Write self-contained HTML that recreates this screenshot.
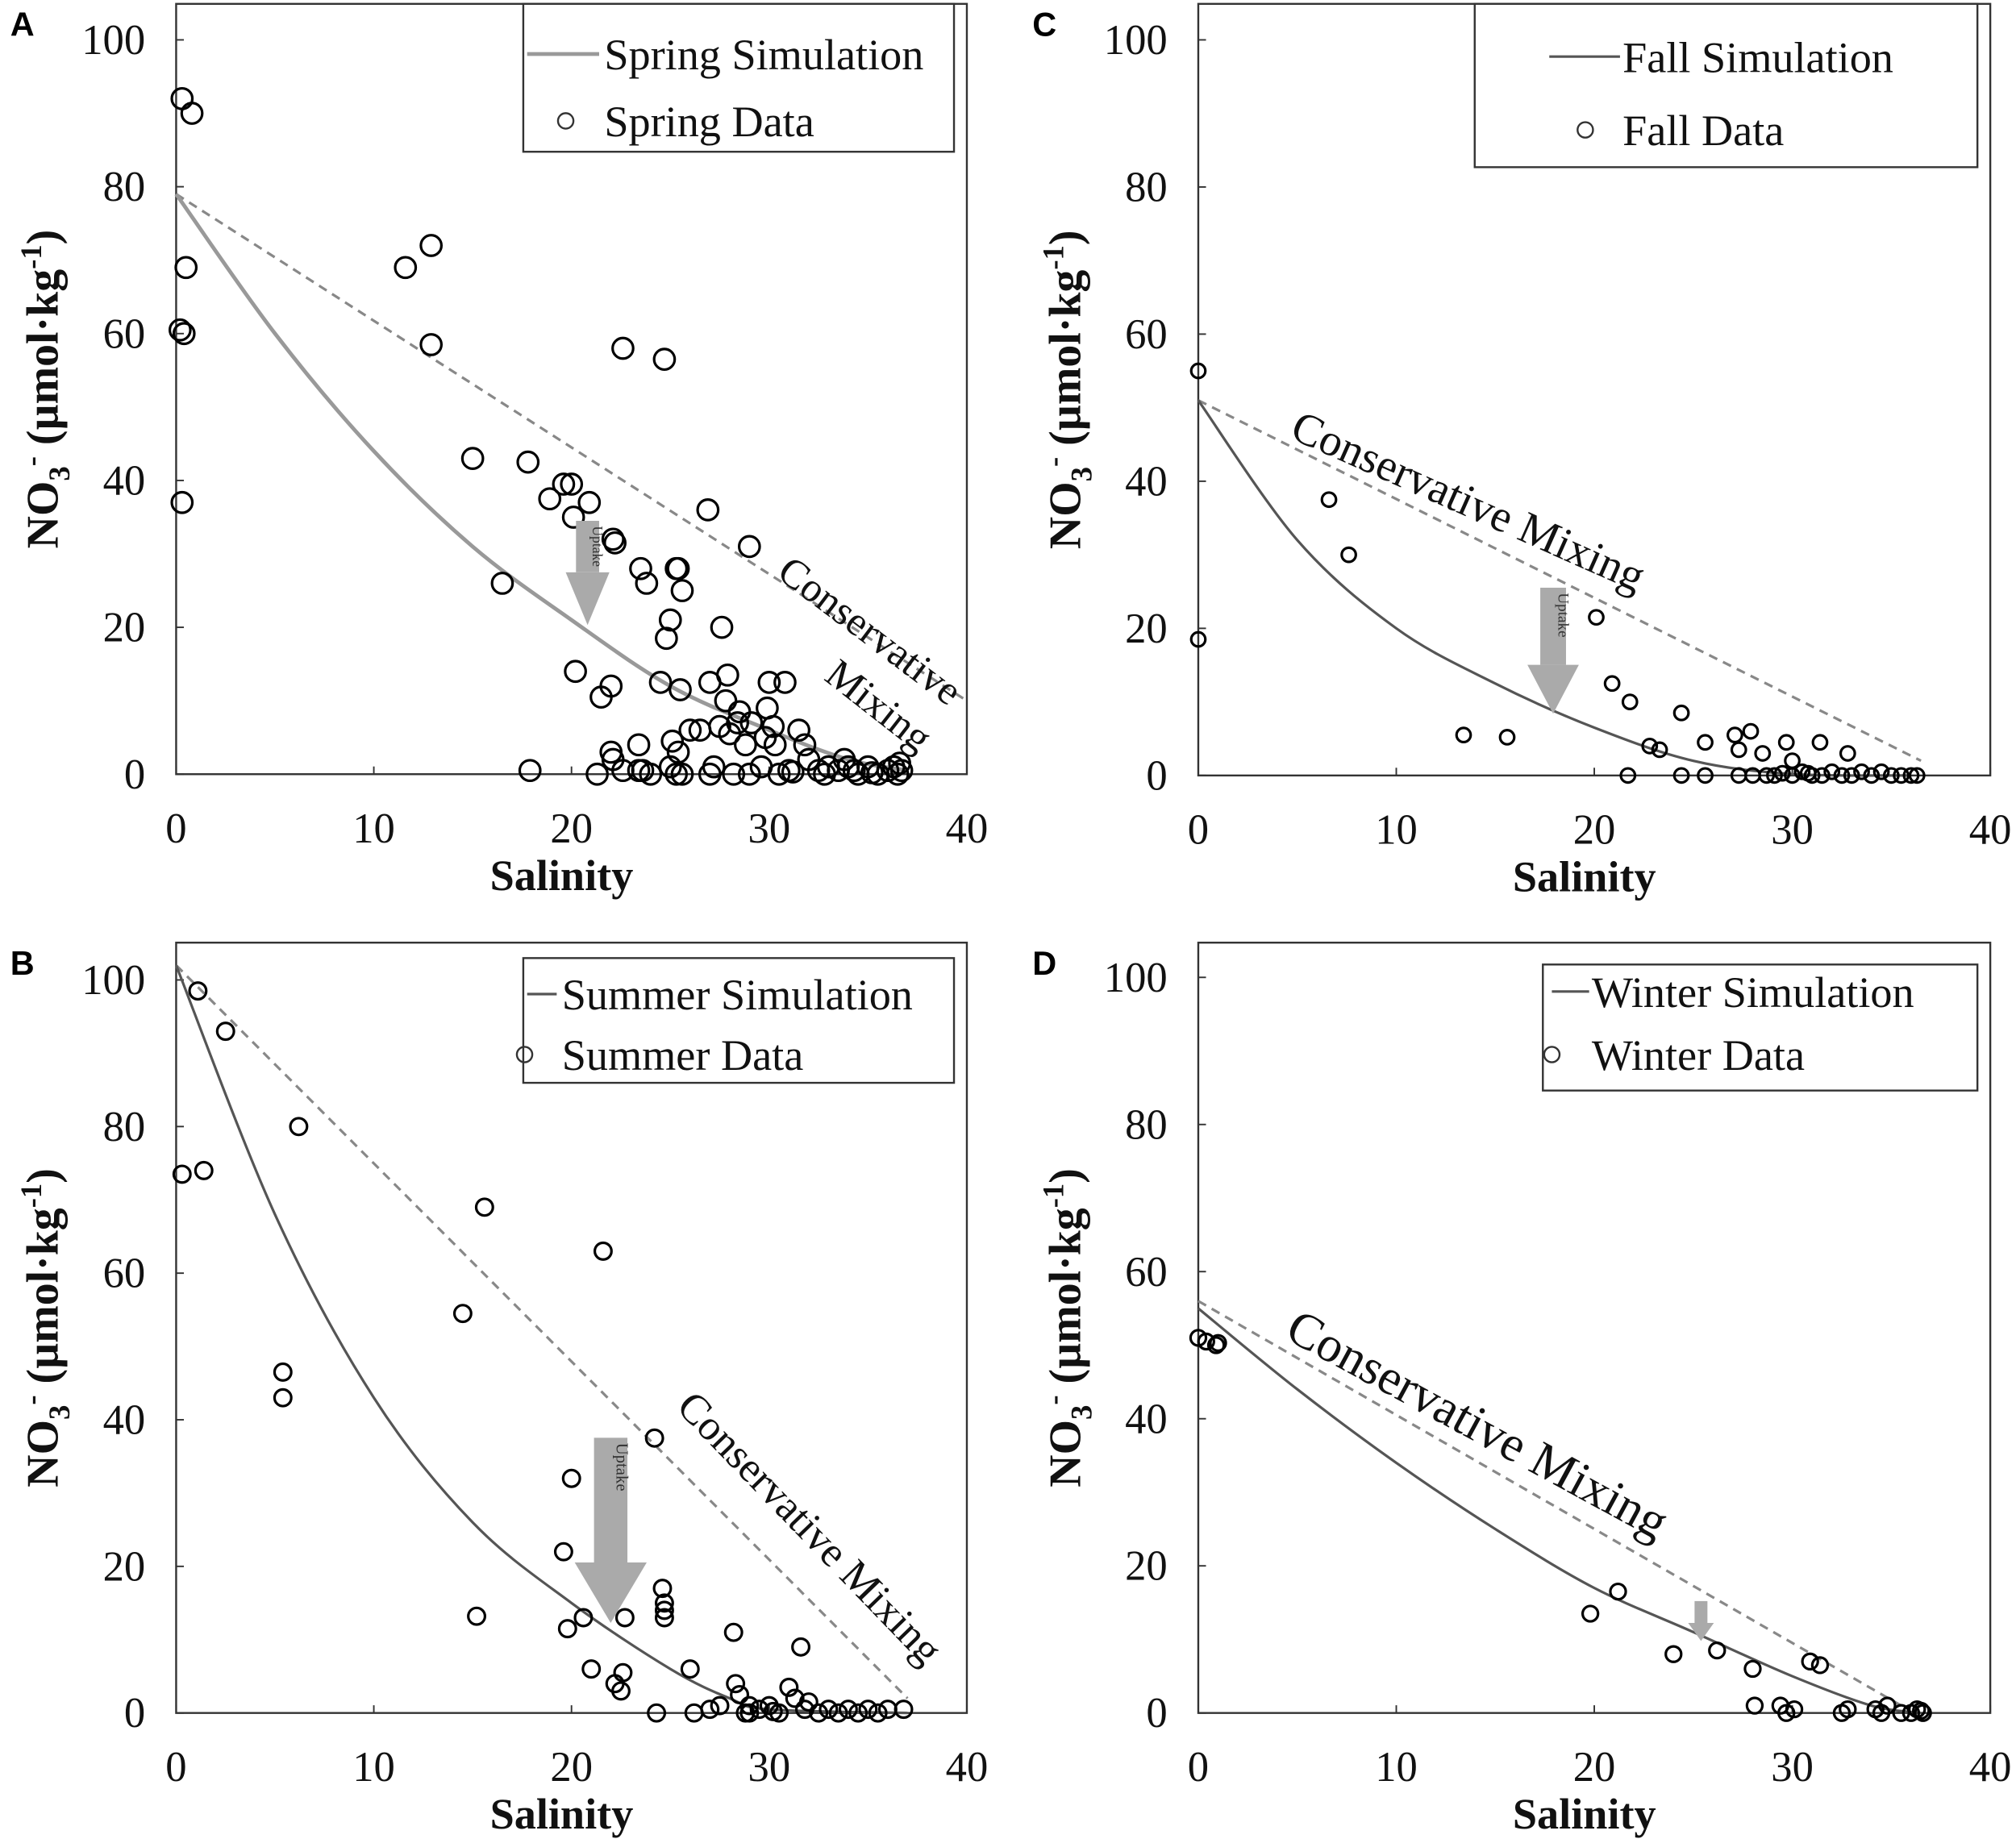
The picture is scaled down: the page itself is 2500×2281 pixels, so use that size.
<!DOCTYPE html>
<html><head><meta charset="utf-8"><style>
html,body{margin:0;padding:0;background:#fff}
svg{display:block}
text{font-family:"Liberation Serif",serif}
</style></head><body>
<svg id="fig" width="2500" height="2281" viewBox="0 0 1568 1430" preserveAspectRatio="none" xmlns="http://www.w3.org/2000/svg"></svg>
<script>
const xTicks=[0,10,20,30,40];
const yTicks=[0,20,40,60,80,100];
const springData=[[0.3,92],[0.8,90],[0.5,69],[0.2,60.5],[0.4,60],[0.3,37],[11.6,69],[12.9,72],[12.9,58.5],[15,43],[16.5,26],[17.8,42.5],[17.9,0.5],[18.9,37.5],[19.6,39.5],[20,39.5],[20.1,35],[20.2,14],[20.9,37],[21.3,0],[21.5,10.5],[22,12],[22.1,32],[22.2,31.5],[22,3],[22.1,2],[22.6,0.5],[22.6,58],[23.4,4],[23.4,0.5],[23.6,0.5],[23.5,28],[23.8,26],[24.5,12.5],[24.7,56.5],[24.8,18.5],[25,21],[25.1,4.5],[25,1],[25.3,28],[25.4,28],[25.6,25],[25.5,11.5],[25.4,3],[25.3,0],[25.6,0],[26,6],[26.5,6],[26.9,36],[27,12.5],[27.2,1],[27.5,6.5],[27.6,20],[27.8,10],[27.9,13.5],[28,5.5],[28.2,0],[28.4,7],[28.5,8.5],[28.8,4],[29,31],[29.1,7],[29.6,1],[29.8,5],[29.9,9],[30,12.5],[30.2,6.5],[30.3,4],[30.5,0],[30.8,12.5],[31,0.5],[31.5,6],[31.8,4],[32,2],[32.5,0.5],[33,1],[33.5,0.5],[34,1],[34.5,0],[35,1],[35.5,0],[36,0.5],[36.3,1],[36.5,0],[36.7,0.5],[33.8,2],[35.2,0.2],[36.6,1.5],[24,0],[27,0],[29,0],[31.2,0.3],[32.8,0],[34.3,0.5]];
const springSim=[[0,79],[5,60],[10,44],[15,31],[20,21],[25,12],[30,6],[34,2],[37,0.5]];
const springMix=[[0,79],[40,10]];
const summerData=[[0.3,73.5],[1.1,98.5],[1.4,74],[2.5,93],[5.4,46.5],[5.4,43],[6.2,80],[14.5,54.5],[15.2,13.2],[15.6,69],[19.6,22],[19.8,11.5],[20,32],[20.6,13],[21,6],[21.6,63],[22.2,4],[22.5,3],[22.6,5.5],[22.7,13],[24.2,37.5],[24.3,0],[24.6,17],[24.7,15],[24.7,14],[24.7,13],[26,6],[26.2,0],[27,0.5],[27.5,1],[28.2,11],[28.3,4],[28.5,2.5],[29,1],[29,0],[29.5,0.5],[30,1],[30.5,0],[31,3.5],[31.3,2],[31.6,9],[31.8,0.5],[32,1.5],[32.5,0],[33,0.5],[33.5,0],[34,0.5],[34.5,0],[35,0.5],[35.5,0],[36,0.5],[36.8,0.5],[30.2,0.2],[28.8,0]];
const summerSim=[[0,102],[5,68],[10,43],[15,26],[20,15],[25,6],[28,2],[30,0.5],[37,0]];
const summerMix=[[0,102],[37,2]];
const fallData=[[0,55],[0,18.5],[6.6,37.5],[7.6,30],[13.4,5.5],[15.6,5.2],[20.1,21.5],[20.9,12.5],[21.8,10],[21.7,0],[22.8,4],[23.3,3.5],[24.4,8.5],[24.4,0],[25.6,4.5],[25.6,0],[27.1,5.5],[27.3,3.5],[27.3,0],[27.9,6],[28,0],[28.5,3],[28.7,0],[29.1,0],[29.7,4.5],[30,2],[30,0],[30.5,0.5],[31,0],[31.4,4.5],[31.5,0],[32,0.5],[32.5,0],[32.8,3],[33,0],[33.5,0.5],[34,0],[34.5,0.5],[35,0],[35.5,0],[36,0],[36.3,0],[29.5,0.3],[30.8,0.3]];
const fallSim=[[0,51],[5,32],[10,20],[15,12.5],[20,6.5],[25,2],[30,0.2],[36,0]];
const fallMix=[[0,51],[36.5,2]];
const winterData=[[0,51],[0.4,50.5],[0.9,50],[1,50.3],[19.8,13.5],[21.2,16.5],[24,8],[26.2,8.5],[28,6],[28.1,1],[29.4,1],[29.7,0],[30.1,0.5],[30.9,7],[31.4,6.5],[32.5,0],[32.8,0.5],[34.2,0.5],[34.5,0],[34.8,1],[35.5,0],[36,0],[36.3,0.5],[36.5,0.3],[36.6,0]];
const winterSim=[[0,55],[5,44],[10,34],[15,25],[20,17],[25,11],[30,5],[34,1],[36.5,0]];
const winterMix=[[0,56],[35.5,1]];

const NS="http://www.w3.org/2000/svg";
const svg=document.getElementById('fig');
function el(tag,attrs,parent,txt){const e=document.createElementNS(NS,tag);for(const k in attrs)e.setAttribute(k,attrs[k]);if(txt!==undefined)e.textContent=txt;(parent||svg).appendChild(e);return e;}

function smooth(pts){
  let d='M'+pts[0][0].toFixed(1)+','+pts[0][1].toFixed(1);
  for(let i=0;i<pts.length-1;i++){
    const p0=pts[i-1]||pts[i],p1=pts[i],p2=pts[i+1],p3=pts[i+2]||p2;
    const c1=[p1[0]+(p2[0]-p0[0])/6,p1[1]+(p2[1]-p0[1])/6];
    const c2=[p2[0]-(p3[0]-p1[0])/6,p2[1]-(p3[1]-p1[1])/6];
    d+='C'+c1[0].toFixed(1)+','+c1[1].toFixed(1)+' '+c2[0].toFixed(1)+','+c2[1].toFixed(1)+' '+p2[0].toFixed(1)+','+p2[1].toFixed(1);
  }
  return d;
}

function panel(p){
  const g=el('g',{});
  
  
  const sx=v=>p.x0+(p.x40-p.x0)*v/40;
  const sy=v=>p.y0+(p.y100-p.y0)*v/100;
  const frame=el('rect',{x:p.x0,y:p.top,width:p.x40-p.x0,height:p.y0-p.top,fill:'none',stroke:'#333','stroke-width':1.5},g);
  
  
  xTicks.forEach(t=>{
    el('line',{x1:sx(t),x2:sx(t),y1:p.y0,y2:p.y0-6,stroke:'#333','stroke-width':1.2},g);
    const tl=el('text',{x:sx(t),y:p.y0+53,'font-size':33,'text-anchor':'middle',fill:'#111'},g,t);
    
    
  });
  yTicks.forEach(t=>{
    el('line',{x1:p.x0,x2:p.x0+6,y1:sy(t),y2:sy(t),stroke:'#333','stroke-width':1.2},g);
    const tl=el('text',{x:p.x0-24,y:sy(t)+11,'font-size':33,'text-anchor':'end',fill:'#111'},g,t);
    
    
  });
  const xt=el('text',{x:sx(19.5),y:p.y0+90,'font-size':34,'font-weight':'bold','text-anchor':'middle',fill:'#111'},g,'Salinity');
  
  
  const cy=(p.y0+p.top)/2;
  const yt=el('text',{transform:`translate(${p.x0-92},${cy}) rotate(-90)`,'font-size':35,'font-weight':'bold','text-anchor':'middle',fill:'#111'},g);
  yt.innerHTML='NO<tspan font-size="23" dy="9">3</tspan><tspan font-size="23" dy="-22">-</tspan><tspan dy="13"> (µmol·kg</tspan><tspan font-size="23" dy="-13">-1</tspan><tspan dy="13">)</tspan>';
  
  
  const lt=el('text',{x:p.x0-129,y:p.top+25,'font-size':26,'font-weight':'bold',fill:'#000'},g,p.letter);
  lt.style.fontFamily='"Liberation Sans",sans-serif';
  
  
  const mx=el('line',{x1:sx(p.mix[0][0]),y1:sy(p.mix[0][1]),x2:sx(p.mix[1][0]),y2:sy(p.mix[1][1]),stroke:'#888','stroke-width':2,'stroke-dasharray':'7,5'},g);
  
  
  const sc=el('path',{d:smooth(p.sim.map(q=>[sx(q[0]),sy(q[1])])),fill:'none',stroke:p.simColor,'stroke-width':p.simW,'stroke-linejoin':'round'},g);
  
  
  p.data.forEach(q=>{
    const c=el('circle',{cx:sx(q[0]),cy:sy(q[1]),r:p.r,fill:'none',stroke:'#000','stroke-width':2},g);
    
    
  });
  if(p.arrow){
    const a=p.arrow;
    const ag=el('g',{},g);
    
    
    el('rect',{x:a.x-a.w/2,y:a.top,width:a.w,height:a.headY-a.top,fill:'#aaa'},ag);
    el('polygon',{points:`${a.x-a.hw},${a.headY} ${a.x+a.hw},${a.headY} ${a.x},${a.tip}`,fill:'#aaa'},ag);
    if(a.label){el('text',{transform:`translate(${a.x+a.fs*0.35},${a.top+4}) rotate(90)`,'font-size':a.fs,fill:'#333'},ag,'Uptake');}
  }
  p.labels.forEach(L=>{
    const t=el('text',{transform:`translate(${L.x},${L.y}) rotate(${L.a})`,'font-size':L.fs||37,fill:'#111'},g,L.t);
    
    
  });
  const l=p.leg;
  const lg=el('g',{},g);
  
  
  el('rect',{x:l.x,y:l.y,width:l.w,height:l.h,fill:'#fff',stroke:'#333','stroke-width':1.5},lg);
  el('line',{x1:l.lx1,x2:l.lx2,y1:l.ly1,y2:l.ly1,stroke:p.simColor,'stroke-width':p.simW},lg);
  const e1=el('text',{x:l.tx,y:l.ly1+12,'font-size':34,fill:'#111'},lg,p.name+' Simulation');
  
  
  el('circle',{cx:l.cx,cy:l.ly2,r:6,fill:'none',stroke:'#333','stroke-width':1.5},lg);
  const e2=el('text',{x:l.tx,y:l.ly2+12,'font-size':34,fill:'#111'},lg,p.name+' Data');
  
  
}

panel({key:'a',letter:'A',name:'Spring',x0:137,x40:752,y0:602,y100:31,top:3,data:springData,sim:springSim,mix:springMix,simColor:'#999',simW:3,r:8,
  arrow:{x:457,w:18,top:405,headY:445,hw:17,tip:486,label:true,fs:11},
  labels:[{t:'Conservative',x:603,y:448,a:37,fs:32},{t:'Mixing',x:640,y:528,a:38,fs:32}],
  leg:{x:407,y:3,w:335,h:115,lx1:410,lx2:466,ly1:42,ly2:94,cx:440,tx:470}});
panel({key:'c',letter:'C',name:'Fall',x0:932,x40:1548,y0:603,y100:31,top:3,data:fallData,sim:fallSim,mix:fallMix,simColor:'#555',simW:2,r:5.5,
  arrow:{x:1208,w:20,top:457,headY:517,hw:20,tip:555,label:true,fs:12},
  labels:[{t:'Conservative Mixing',x:1002,y:340,a:24,fs:35}],
  leg:{x:1147,y:3,w:391,h:127,lx1:1205,lx2:1260,ly1:44,ly2:101,cx:1233,tx:1262}});
panel({key:'b',letter:'B',name:'Summer',x0:137,x40:752,y0:1332,y100:762,top:733,data:summerData,sim:summerSim,mix:summerMix,simColor:'#555',simW:2,r:6.5,
  arrow:{x:475,w:26,top:1118,headY:1215,hw:28,tip:1262,label:true,fs:13},
  labels:[{t:'Conservative Mixing',x:525,y:1095,a:46,fs:33}],
  leg:{x:407,y:745,w:335,h:97,lx1:410,lx2:433,ly1:773,ly2:820,cx:408,tx:437}});
panel({key:'d',letter:'D',name:'Winter',x0:932,x40:1548,y0:1332,y100:760,top:733,data:winterData,sim:winterSim,mix:winterMix,simColor:'#555',simW:2,r:6,
  arrow:{x:1323,w:10,top:1245,headY:1262,hw:10,tip:1276,label:false},
  labels:[{t:'Conservative Mixing',x:998,y:1040,a:28.5,fs:39}],
  leg:{x:1200,y:750,w:338,h:98,lx1:1207,lx2:1236,ly1:771,ly2:820,cx:1207,tx:1238}});
</script>
</body></html>
